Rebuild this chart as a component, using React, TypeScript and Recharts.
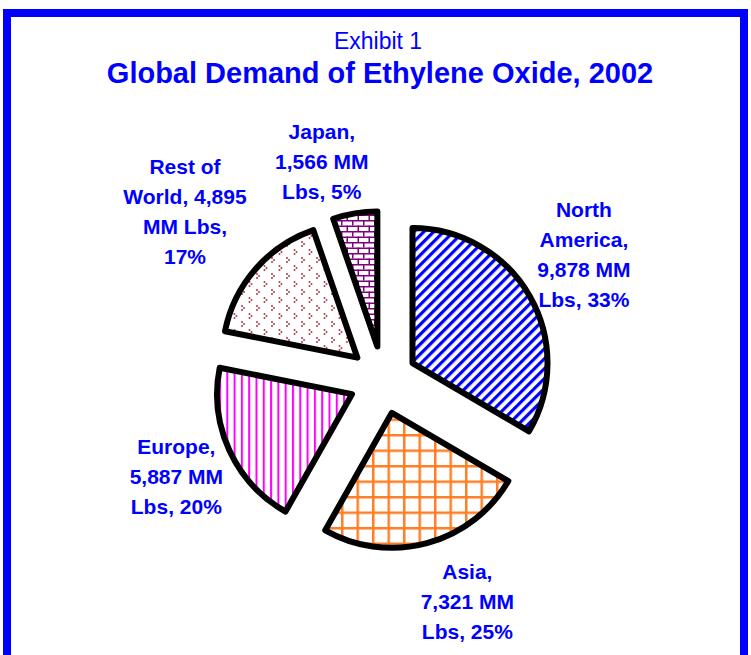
import { PieChart, Pie, Cell, Sector } from 'recharts';

// Global demand of ethylene oxide, 2002 (MM Lbs)
const REGIONS = ['North America', 'Asia', 'Europe', 'Rest of World', 'Japan'];
const DEMAND = [9878, 7321, 5887, 4895, 1566];
// how many words go on each line of the slice label
const LABEL_BREAKS = [[1, 1, 2, 2], [1, 2, 2], [1, 2, 2], [2, 2, 2, 1], [1, 2, 2]];

const FILLS = ['url(#pNA)', 'url(#pAsia)', 'url(#pEurope)', 'url(#pRow)', 'url(#pJapan)'];
// label placement: distance from pie centre and turn from the slice mid angle
const LABEL_POS = [
  { dist: 237, turn: 2.2 },
  { dist: 237, turn: 5.8 },
  { dist: 228, turn: 0.4 },
  { dist: 260, turn: 0.7 },
  { dist: 227, turn: 6.1 },
];

const BLUE = '#0000FF';
const FONT = '"Liberation Sans", Arial, Helvetica, sans-serif';
const W = 751;
const H = 655;
const CX = 383;
const CY = 380;
const R = 135;
const EXPLODE = 34;
const RAD = Math.PI / 180;

const total = DEMAND.reduce((a, b) => a + b, 0);
const data = REGIONS.map((name, i) => ({ name, value: DEMAND[i] }));

const ExplodedSlice = (props: any) => {
  const { cx, cy, midAngle } = props;
  const ox = EXPLODE * Math.cos(-midAngle * RAD);
  const oy = EXPLODE * Math.sin(-midAngle * RAD);
  return <Sector {...props} cx={cx + ox} cy={cy + oy} />;
};

const renderLabel = (props: any) => {
  const { midAngle, index } = props;
  const cx = props.cx ?? CX;
  const cy = props.cy ?? CY;
  const d = data[index];
  const pct = Math.round((d.value / total) * 100);
  const words = `${d.name}, ${d.value.toLocaleString('en-US')} MM Lbs, ${pct}%`.split(' ');
  const lines: string[] = [];
  let k = 0;
  LABEL_BREAKS[index].forEach((n) => {
    lines.push(words.slice(k, k + n).join(' '));
    k += n;
  });
  const pos = LABEL_POS[index];
  const a = midAngle + pos.turn;
  const x = cx + pos.dist * Math.cos(-a * RAD);
  const y = cy + pos.dist * Math.sin(-a * RAD);
  const first = y - ((lines.length - 1) * 30) / 2 + 7.5;
  return (
    <text x={x} y={first} fill={BLUE} textAnchor="middle" fontFamily={FONT} fontSize={21} fontWeight="bold">
      {lines.map((l, i) => (
        <tspan key={i} x={x} y={first + i * 30}>
          {l}
        </tspan>
      ))}
    </text>
  );
};

export default function App() {
  return (
    <div style={{ position: 'absolute', left: 0, top: 0, width: W, height: H, overflow: 'hidden', background: '#fff' }}>
      <svg width={W} height={H} style={{ position: 'absolute', left: 0, top: 0 }}>
        <rect x={7} y={13} width={737} height={700} fill="none" stroke={BLUE} strokeWidth={8} />
        <text x={378} y={49} textAnchor="middle" fill={BLUE} fontFamily={FONT} fontSize={23}>
          Exhibit 1
        </text>
        <text x={380} y={83} textAnchor="middle" fill={BLUE} fontFamily={FONT} fontSize={29} fontWeight="bold">
          Global Demand of Ethylene Oxide, 2002
        </text>
      </svg>
      <div style={{ position: 'absolute', left: 0, top: 0 }}>
        <PieChart width={W} height={H} margin={{ top: 0, right: 0, bottom: 0, left: 0 }}>
          <defs>
            <pattern id="pNA" patternUnits="userSpaceOnUse" width={7} height={7} patternTransform="rotate(45)">
              <rect width={7} height={7} fill="#fff" />
              <rect x={0} y={0} width={3.2} height={7} fill={BLUE} />
            </pattern>
            <pattern id="pAsia" patternUnits="userSpaceOnUse" width={15.5} height={15.5}>
              <rect width={15.5} height={15.5} fill="#fff" />
              <rect x={0} y={0} width={2.5} height={15.5} fill="#FF7F27" />
              <rect x={0} y={0} width={15.5} height={2.5} fill="#FF7F27" />
            </pattern>
            <pattern id="pEurope" patternUnits="userSpaceOnUse" width={7.3} height={10}>
              <rect width={7.3} height={10} fill="#fff" />
              <rect x={0} y={0} width={2} height={10} fill="#FF00FF" />
            </pattern>
            <pattern id="pRow" patternUnits="userSpaceOnUse" width={15} height={16}>
              <rect width={15} height={16} fill="#fff" />
              <circle cx={2} cy={2} r={1} fill="#B03848" />
              <circle cx={4} cy={4} r={1} fill="#B03848" />
              <circle cx={2} cy={6} r={1} fill="#B03848" />
              <circle cx={9.5} cy={10} r={1} fill="#B03848" />
              <circle cx={11.5} cy={12} r={1} fill="#B03848" />
              <circle cx={9.5} cy={14} r={1} fill="#B03848" />
            </pattern>
            <pattern id="pJapan" patternUnits="userSpaceOnUse" width={11} height={11}>
              <rect width={11} height={11} fill="#fff" />
              <rect x={0} y={0} width={11} height={1.5} fill="#800080" />
              <rect x={0} y={5.5} width={11} height={1.5} fill="#800080" />
              <rect x={0} y={0} width={1.5} height={5.5} fill="#800080" />
              <rect x={5.5} y={5.5} width={1.5} height={5.5} fill="#800080" />
            </pattern>
          </defs>
          <Pie
            data={data}
            dataKey="value"
            nameKey="name"
            cx={CX}
            cy={CY}
            innerRadius={0}
            outerRadius={R}
            startAngle={90}
            endAngle={-270}
            stroke="#000"
            strokeWidth={6}
            strokeLinejoin="round"
            shape={ExplodedSlice}
            label={renderLabel}
            labelLine={false}
            isAnimationActive={false}
          >
            {data.map((d, i) => (
              <Cell key={d.name} fill={FILLS[i]} />
            ))}
          </Pie>
        </PieChart>
      </div>
    </div>
  );
}
